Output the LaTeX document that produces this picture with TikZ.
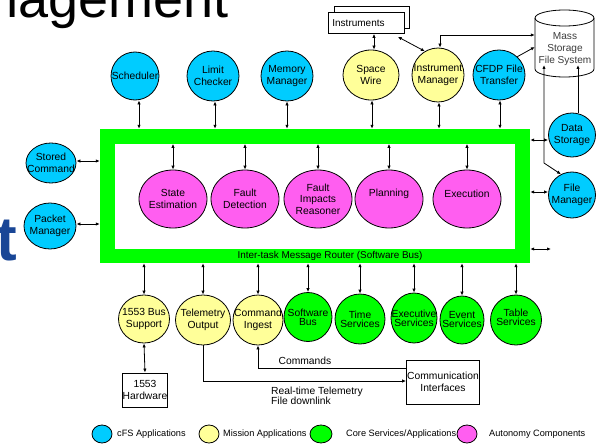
\documentclass[tikz,border=0pt]{standalone}
\usepackage{fontspec}
\setmainfont{Liberation Sans}
\usetikzlibrary{arrows.meta,shapes.geometric}
\definecolor{cfsblue}{RGB}{0,204,255}
\definecolor{misyel}{RGB}{255,255,153}
\definecolor{coregreen}{RGB}{0,255,0}
\definecolor{autopink}{RGB}{255,94,240}
\definecolor{titleblue}{RGB}{25,70,150}
\definecolor{msgray}{RGB}{60,60,60}
\begin{document}
\begin{tikzpicture}[x=1pt,y=-1pt,
  every node/.style={font=\fontsize{10.3}{11.5}\selectfont, inner sep=0pt, align=center},
  txt/.style={label={center:#1}},
  coretxt/.style={label={[font=\fontsize{10.3}{9}\selectfont]center:#1}},
  bubble/.style={ellipse, draw=black, line width=0.8pt, minimum width=52pt, minimum height=50pt},
  cfsbub/.style={bubble, fill=cfsblue},
  misbub/.style={bubble, fill=misyel},
  corebub/.style={bubble, fill=coregreen},
  autobub/.style={bubble, fill=autopink, minimum width=68pt, minimum height=58pt},
  legbub/.style={ellipse, draw=black, line width=0.8pt, minimum width=20pt, minimum height=18pt},
  boxn/.style={draw=black, line width=0.8pt, fill=white, rectangle},
  tip/.tip={Latex[length=4pt,width=3.4pt]},
  bi/.style={tip-tip, line width=0.8pt},
  oneway/.style={-tip, line width=0.8pt},
  backway/.style={tip-, line width=0.8pt},
  legtext/.style={anchor=west, font=\fontsize{9.2}{11}\selectfont}
]
\useasboundingbox (0,0) rectangle (597,444);
\clip (0,0) rectangle (597,444);
\fill[white] (0,0) rectangle (597,444);

% cropped title letters
\node[anchor=base east, font=\fontsize{54}{54}\selectfont] (title) at (229,18) {Management};
\node[anchor=base east, font=\fontsize{62}{62}\selectfont\bfseries, text=titleblue] (tee) at (17,260) {t};

% message router frame
\node[fill=coregreen, minimum width=430pt, minimum height=134pt] (bus) at (315,196) {};
\node[fill=white, minimum width=400pt, minimum height=105pt] (inner) at (315,196.5) {};
\node[font=\fontsize{9.9}{11}\selectfont] (buslabel) at (330,255.5) {Inter-task Message Router (Software Bus)};

% autonomy components
\node[autobub, txt={State\\Estimation}] (se) at (173,199) {};
\node[autobub, txt={Fault\\Detection}] (fd) at (245,199) {};
\node[autobub, txt={Fault\\Impacts\\Reasoner}] (fir) at (318,199) {};
\node[autobub, label={[yshift=5pt]center:Planning}] (plan) at (389,199) {};
\node[autobub, label={[yshift=5pt]center:Execution}] (exe) at (467,199) {};
\foreach \n in {se,fd,fir,plan,exe}
  \draw[bi] (\n.north) -- (\n.north |- inner.north);

% top row
\node[cfsbub, minimum width=48pt, minimum height=48pt, txt={Scheduler}] (sched) at (135,76) {};
\node[cfsbub, txt={Limit\\Checker}] (limit) at (213,76) {};
\node[cfsbub, txt={Memory\\Manager}] (mem) at (287,76) {};
\node[misbub, minimum width=56pt, txt={Space\\Wire}] (space) at (371,75) {};
\node[misbub, minimum height=54pt, txt={Instrument\\Manager}] (instmgr) at (438,75) {};
\node[cfsbub, txt={CFDP File\\Transfer}] (cfdp) at (499,75) {};
\foreach \n/\dx in {sched/4,limit/2,mem/0,space/1,instmgr/1,cfdp/1}
  \draw[bi] ([xshift=\dx pt]\n.south) -- ([xshift=\dx pt]\n.south |- bus.north);

% instruments stack
\draw[line width=0.8pt, fill=white] (334,6) rectangle (409,28);
\node[boxn, anchor=north west, minimum width=76pt, minimum height=21pt, text width=68pt, inner xsep=4pt, align=left, font=\fontsize{10}{11}\selectfont] (instr) at (328,12) {Instruments};
\draw[bi] ([xshift=3pt]space.north) -- ([xshift=3pt]space.north |- instr.south);
\draw[bi] ([xshift=-7pt,yshift=-3pt]instr.south east) -- (instmgr.119);

% mass storage
\node[minimum width=59pt, minimum height=67pt] (ms) at (564.5,43.5) {};
\draw[line width=0.8pt, fill=white] (535,18) -- (535,69)
  arc[start angle=180, end angle=360, x radius=29.5pt, y radius=8pt] -- (594,18)
  arc[start angle=0, end angle=180, x radius=29.5pt, y radius=8pt] -- cycle;
\draw[line width=0.8pt] (535,18) arc[start angle=180, end angle=360, x radius=29.5pt, y radius=8pt];
\node[text=msgray, font=\fontsize{10.1}{12}\selectfont] (mstext) at (565,49) {Mass\\Storage\\File System};
\draw[bi] ([xshift=2pt]instmgr.north) |- (ms.west |- 0,35);
\draw[oneway] (cfdp.45) -- (ms.west |- 0,47);

% right side
\node[cfsbub, minimum width=47pt, minimum height=44pt, txt={Data\\Storage}] (ds) at (572,135) {};
\node[cfsbub, minimum width=47pt, minimum height=46pt, txt={File\\Manager}] (fm) at (572,195) {};
\draw[oneway] ([xshift=6pt]ds.north) -- ([xshift=6pt]ds.north |- 0,65);
\coordinate (msin) at (544,65);
\draw[bi] (msin) -- (544,163) -- (fm.118);
\draw[bi] (bus.east |- 0,140) -- (ds.west |- 0,140);
\draw[bi] (bus.east |- 0,192) -- (fm.west |- 0,192);
\coordinate (freeend) at (551,249);
\draw[bi] (bus.east |- freeend) -- (freeend);

% left side
\node[cfsbub, minimum width=50pt, minimum height=40pt, txt={Stored\\Command}] (sc) at (51,163) {};
\node[cfsbub, minimum width=52pt, minimum height=46pt, txt={Packet\\Manager}] (pm) at (50,226) {};
\draw[bi] (sc.east |- 0,161) -- (bus.west |- 0,161);
\draw[bi] (pm.east |- 0,224) -- (bus.west |- 0,224);

% bottom row
\node[misbub, minimum width=51pt, minimum height=48pt, txt={1553 Bus\\Support}] (b1553) at (144,319) {};
\node[misbub, minimum width=55pt, txt={Telemetry\\Output}] (tel) at (203,320) {};
\node[misbub, minimum width=50pt, txt={Command\\Ingest}] (cmd) at (258,320) {};
\node[corebub, minimum width=48pt, minimum height=49pt, coretxt={Software\\Bus}] (swbus) at (308,317) {};
\node[corebub, minimum width=50pt, coretxt={Time\\Services}] (time) at (360,319) {};
\node[corebub, minimum width=46pt, coretxt={Executive\\Services}] (exec) at (414,318) {};
\node[corebub, minimum width=44pt, minimum height=48pt, coretxt={Event\\Services}] (event) at (462,320) {};
\node[corebub, minimum width=51pt, label={[yshift=3pt, font=\fontsize{10.3}{9}\selectfont]center:Table\\Services}] (table) at (516,320) {};
\foreach \n in {b1553,tel,cmd,swbus,time,exec,event,table}
  \draw[bi] (\n.north) -- (\n.north |- bus.south);

% hardware and interfaces
\node[boxn, minimum width=44pt, minimum height=34pt] (hw) at (145,390) {1553\\Hardware};
\draw[bi] (b1553.south) -- (hw.north);
\node[boxn, minimum width=73pt, minimum height=44pt] (ci) at (443,382) {Communication\\Interfaces};
\draw[backway] (cmd.south) |- (ci.west |- 0,368);
\draw[oneway] (tel.south) |- (ci.west |- 0,381);
\node (cmdlabel) at (305,361) {Commands};
\node[anchor=west, align=left, font=\fontsize{10.3}{10.5}\selectfont] (tmlabel) at (271,396) {Real-time Telemetry\\File downlink};

% legend
\node[legtext] (lt1) at (117,434) {cFS Applications};
\node[legtext] (lt2) at (223,434) {Mission Applications};
\node[legtext] (lt3) at (346,434) {Core Services/Applications};
\node[legtext] (lt4) at (489,434) {Autonomy Components};
\node[legbub, fill=cfsblue] (lg1) at (102,434) {};
\node[legbub, fill=misyel] (lg2) at (209,434) {};
\node[legbub, fill=coregreen, minimum width=22pt] (lg3) at (321,434) {};
\node[legbub, fill=autopink] (lg4) at (467,434) {};
\end{tikzpicture}
\end{document}
